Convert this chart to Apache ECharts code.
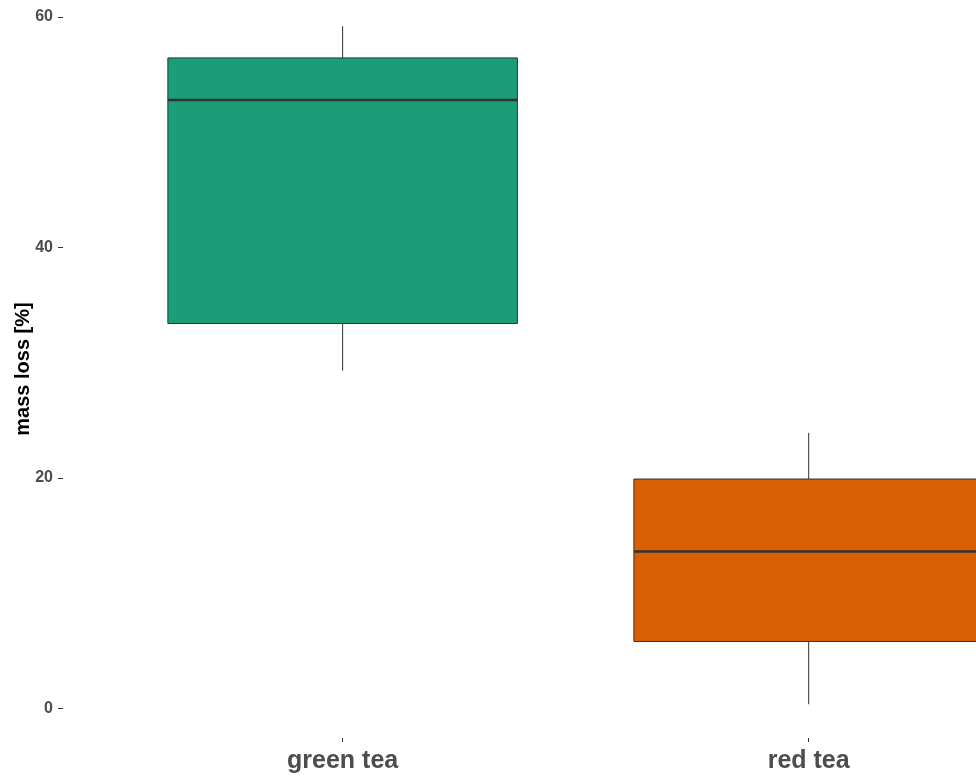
<!DOCTYPE html>
<html>
<head>
<meta charset="utf-8">
<script src="https://cdn.jsdelivr.net/npm/echarts@6/dist/echarts.min.js"></script>
<style>
  html, body { margin: 0; padding: 0; background: #fff; }
  #chart { width: 976px; height: 776px; }
</style>
</head>
<body>
<div id="chart"></div>
<script>
// Tea types along the x axis (placed at positions 1, 2, ...)
const categories = ['green tea', 'red tea'];
// Five-number summaries of mass loss [%]
const whiskerLow = [29.3, 0.35];
const boxLow = [33.4, 5.8];
const medians = [52.8, 13.6];
const boxHigh = [56.45, 19.9];
const whiskerHigh = [59.2, 23.9];
const fillColors = ['#1B9E77', '#D95F02'];
const yTicks = [0, 20, 40, 60];
const xTicks = categories.map((c, i) => i + 1);

const rows = categories.map((c, i) => [i + 1, whiskerLow[i], boxLow[i], medians[i], boxHigh[i], whiskerHigh[i]]);

const chart = echarts.init(document.getElementById('chart'));

function renderBox(params, api) {
  const pos = api.value(0);
  const half = api.size([0.375, 0])[0];
  const pLo = api.coord([pos, api.value(1)]);
  const pQ1 = api.coord([pos, api.value(2)]);
  const pMed = api.coord([pos, api.value(3)]);
  const pQ3 = api.coord([pos, api.value(4)]);
  const pHi = api.coord([pos, api.value(5)]);
  const cx = pMed[0];
  const lineStyle = { stroke: '#333333', lineWidth: 1 };
  return {
    type: 'group',
    children: [
      { type: 'line', shape: { x1: cx, y1: pHi[1], x2: cx, y2: pQ3[1] }, style: lineStyle },
      { type: 'line', shape: { x1: cx, y1: pQ1[1], x2: cx, y2: pLo[1] }, style: lineStyle },
      {
        type: 'rect',
        shape: { x: cx - half, y: pQ3[1], width: half * 2, height: pQ1[1] - pQ3[1] },
        style: { fill: fillColors[pos - 1], stroke: '#333333', lineWidth: 1 }
      },
      { type: 'line', shape: { x1: cx - half, y1: pMed[1], x2: cx + half, y2: pMed[1] }, style: { stroke: '#333333', lineWidth: 2.5 } }
    ]
  };
}

chart.setOption({
  animation: false,
  backgroundColor: '#ffffff',
  grid: { left: 63, right: 0, top: 0, bottom: 38, containLabel: false, outerBoundsMode: 'none' },
  xAxis: {
    type: 'value',
    min: 0.4,
    max: 2.359,
    axisLine: { show: false, onZero: false },
    axisTick: { show: true, customValues: xTicks, length: 4, lineStyle: { color: '#333333', width: 1 } },
    axisLabel: {
      customValues: xTicks,
      formatter: v => categories[Math.round(v) - 1] || '',
      color: '#4d4d4d', fontSize: 25, fontWeight: 'bold',
      fontFamily: 'Liberation Sans, Arial, sans-serif', margin: 11
    },
    splitLine: { show: false }
  },
  yAxis: {
    type: 'value',
    min: -2.578,
    max: 61.476,
    name: 'mass loss [%]',
    nameLocation: 'middle',
    nameMoveOverlap: false,
    nameGap: 30,
    nameTextStyle: {
      color: '#000000', fontSize: 20, fontWeight: 'bold',
      fontFamily: 'Liberation Sans, Arial, sans-serif'
    },
    axisLine: { show: false, onZero: false },
    axisTick: { show: true, customValues: yTicks, length: 5, lineStyle: { color: '#333333', width: 1 } },
    axisLabel: {
      customValues: yTicks,
      color: '#4d4d4d', fontSize: 16, fontWeight: 'bold',
      fontFamily: 'Liberation Sans, Arial, sans-serif', margin: 10,
      padding: [3, 0, 0, 0]
    },
    splitLine: { show: false }
  },
  series: [{
    type: 'custom',
    renderItem: renderBox,
    encode: { x: 0, y: [1, 2, 3, 4, 5] },
    data: rows,
    clip: false
  }]
});
</script>
</body>
</html>
